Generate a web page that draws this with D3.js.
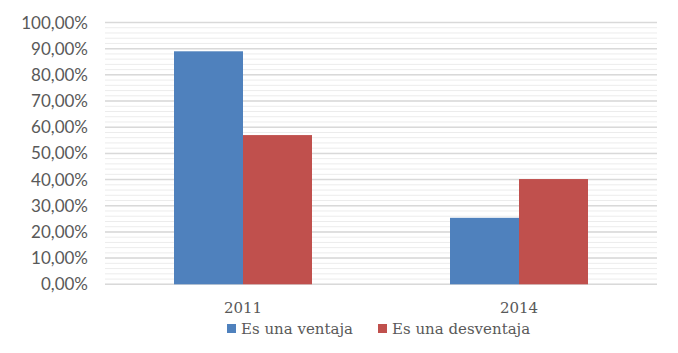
<!DOCTYPE html>
<html><head><meta charset="utf-8">
<script src="https://cdn.jsdelivr.net/npm/d3@7"></script>
<style>html,body{margin:0;padding:0;background:#fff;}</style>
</head><body>
<svg id="c" width="678" height="353"></svg>
<script>
const categories = ["2011", "2014"];
const seriesNames = ["Es una ventaja", "Es una desventaja"];
const ventaja = [0.890, 0.254];
const desventaja = [0.570, 0.402];
const majorTicks = [0, 0.1, 0.2, 0.3, 0.4, 0.5, 0.6, 0.7, 0.8, 0.9, 1.0];
const minorTicks = d3.range(0, 1.0001, 0.02);
const colors = ["#4f81bd", "#c0504d"];

const svg = d3.select("#c");
const plotLeft = 105, plotRight = 657, plotTop = 22.5, plotBottom = 284.3;
const locale = d3.formatLocale({decimal: ",", thousands: ".", grouping: [3], currency: ["", "€"]});
const fmt = locale.format(".2%");

const y = d3.scaleLinear().domain([0, 1]).range([plotBottom, plotTop]);
const x0 = d3.scaleBand().domain(categories).range([plotLeft, plotRight]).paddingInner(0.5).paddingOuter(0.25);
const x1 = d3.scaleBand().domain(seriesNames).range([0, x0.bandwidth()]);

// minor gridlines
svg.append("g").selectAll("line").data(minorTicks).join("line")
  .attr("x1", plotLeft).attr("x2", plotRight)
  .attr("y1", d => y(d)).attr("y2", d => y(d))
  .attr("stroke", "#ececec").attr("stroke-width", 1);

// major gridlines
svg.append("g").selectAll("line").data(majorTicks).join("line")
  .attr("x1", plotLeft).attr("x2", plotRight)
  .attr("y1", d => y(d)).attr("y2", d => y(d))
  .attr("stroke", "#d9d9d9").attr("stroke-width", 1.5);

// y axis labels
svg.append("g").selectAll("text").data(majorTicks).join("text")
  .attr("x", 88).attr("y", d => y(d) + 6)
  .attr("text-anchor", "end")
  .attr("font-family", "Lato, 'Open Sans', sans-serif")
  .attr("font-size", 17).attr("fill", "#595959")
  .text(d => fmt(d));

// bars
const series = [ventaja, desventaja];
const g = svg.append("g");
series.forEach((vals, si) => {
  g.selectAll(".s" + si).data(categories).join("rect")
    .attr("class", "s" + si)
    .attr("x", (c) => x0(c) + x1(seriesNames[si]))
    .attr("width", x1.bandwidth())
    .attr("y", (c, i) => y(vals[i]))
    .attr("height", (c, i) => y(0) - y(vals[i]))
    .attr("fill", colors[si]);
});

// category labels
svg.append("g").selectAll("text").data(categories).join("text")
  .attr("x", c => x0(c) + x0.bandwidth() / 2).attr("y", 313)
  .attr("text-anchor", "middle")
  .attr("font-family", "'DejaVu Serif', serif")
  .attr("font-size", 15).attr("fill", "#595959")
  .text(c => c);

// legend
const leg = svg.append("g");
const legX = [227, 378];
seriesNames.forEach((n, i) => {
  leg.append("rect").attr("x", legX[i]).attr("y", 324).attr("width", 9).attr("height", 9).attr("fill", colors[i]);
  leg.append("text").attr("x", legX[i] + 14).attr("y", 334)
    .attr("font-family", "'DejaVu Serif', serif")
    .attr("font-size", 15).attr("fill", "#595959").text(n);
});
</script>
</body></html>
